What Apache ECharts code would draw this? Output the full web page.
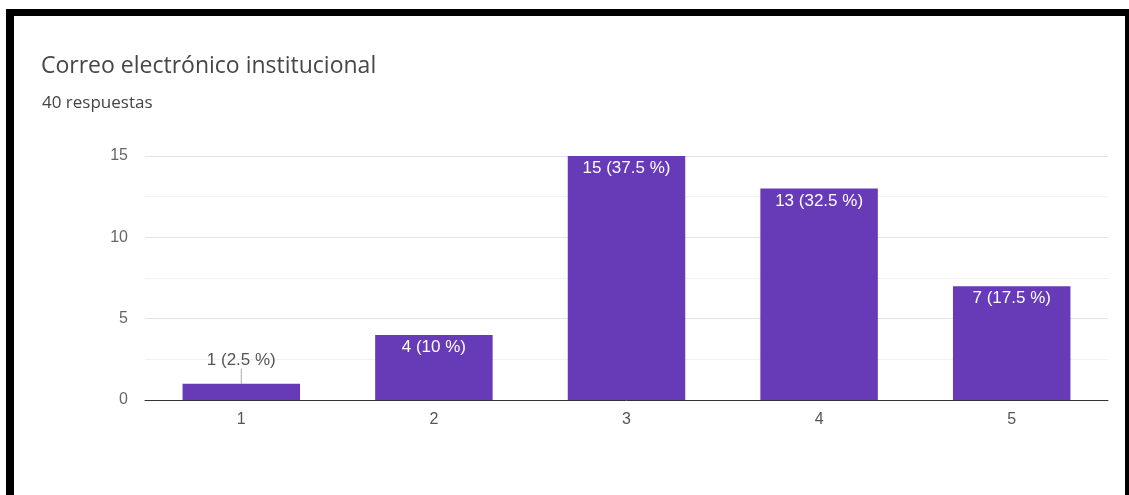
<!DOCTYPE html>
<html>
<head>
<meta charset="utf-8">
<script src="https://cdn.jsdelivr.net/npm/echarts@6/dist/echarts.min.js"></script>
<style>
html,body{margin:0;padding:0;background:#fff;}
#wrap{position:relative;width:1129px;height:495px;overflow:hidden;}
#chart{position:absolute;left:0;top:0;width:1129px;height:495px;}
#frame{position:absolute;left:6px;top:9px;width:1111px;height:482px;border-left:8px solid #000;border-top:7px solid #000;border-right:4px solid #000;border-bottom:2px solid #999;pointer-events:none;}
</style>
</head>
<body>
<div id="wrap">
<div id="chart"></div>
<div id="frame"></div>
</div>
<script>
const titleText = 'Correo electrónico institucional';
const subtitleText = '40 respuestas';
const categories = ['1', '2', '3', '4', '5'];
const values = [1, 4, 15, 13, 7];
const total = 40;

function pct(v) {
  const p = Math.round(v / total * 1000) / 10;
  return v + ' (' + p + ' %)';
}

const chart = echarts.init(document.getElementById('chart'));
const data = values.map((v, i) => {
  if (v < 2) {
    return {
      value: v,
      label: { position: 'top', color: '#555', distance: 1 },
      labelLine: { show: true, lineStyle: { color: '#aaa', width: 1 } }
    };
  }
  return { value: v };
});

chart.setOption({
  animation: false,
  title: [
    { text: titleText, left: 36, top: 50, textStyle: { fontFamily: 'Open Sans', fontSize: 23, fontWeight: 'normal', color: '#474747' } },
    { text: subtitleText, left: 37, top: 90, textStyle: { fontFamily: 'Open Sans', fontSize: 17, fontWeight: 'normal', color: '#444' } }
  ],
  grid: { left: 145, right: 21, top: 156, bottom: 95 },
  xAxis: {
    type: 'category',
    data: categories,
    axisLine: { lineStyle: { color: '#333', width: 1 } },
    axisTick: { show: false },
    axisLabel: { color: '#555', fontFamily: 'Liberation Sans', fontSize: 16, margin: 12 }
  },
  yAxis: {
    type: 'value',
    min: 0, max: 15, interval: 5,
    axisLine: { show: false },
    axisTick: { show: false },
    axisLabel: { color: '#666', fontFamily: 'Liberation Sans', fontSize: 16, margin: 17 },
    splitLine: { lineStyle: { color: '#e4e4e4' } },
    minorTick: { show: false, splitNumber: 2 },
    minorSplitLine: { show: true, lineStyle: { color: '#f1f1f1' } }
  },
  series: [{
    type: 'bar',
    data: data,
    barCategoryGap: '39%',
    itemStyle: { color: '#673ab7' },
    label: {
      show: true,
      position: 'insideTop',
      distance: 4,
      color: '#fff',
      fontFamily: 'Liberation Sans',
      fontSize: 17,
      formatter: p => pct(p.value)
    },
    labelLayout: p => (values[p.dataIndex] < 2 ? { dy: -14 } : {})
  }]
});
</script>
</body>
</html>
